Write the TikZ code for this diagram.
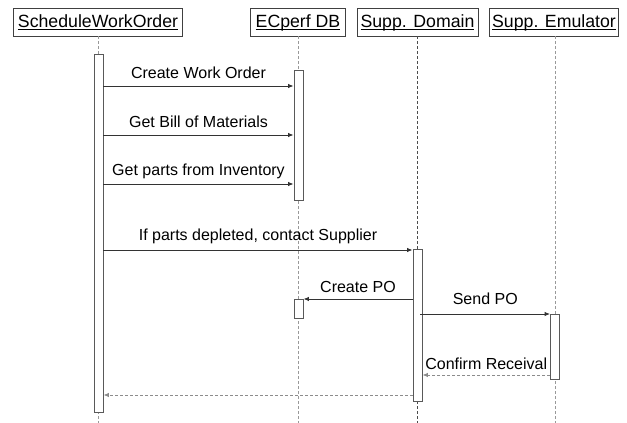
\documentclass[tikz,border=0pt]{standalone}
\usepackage{fontspec}
\setmainfont{Liberation Sans}
\usetikzlibrary{arrows.meta}
\begin{document}
\begin{tikzpicture}[x=1pt,y=-1pt,
 head/.style={draw=black!75,line width=0.8pt,inner sep=0pt,minimum height=28pt,text height=12.7pt,text depth=1.5pt,font=\fontsize{17.7}{20}\selectfont},
 life/.style={draw=black!40,dash pattern=on 3pt off 2pt,line width=0.8pt},
 act/.style={draw=black!65,fill=white,line width=0.9pt,inner sep=0pt,minimum width=9pt},
 msg/.style={draw=black!80,line width=0.9pt,-{Latex[length=5.5pt,width=4.5pt]}},
 ret/.style={draw=black!45,line width=0.9pt,dash pattern=on 3pt off 2pt,-{Latex[length=5.5pt,width=4.5pt]}},
 lbl/.style={font=\fontsize{16}{19}\selectfont,anchor=base,inner sep=0pt,text=black}]
\useasboundingbox (0,0) rectangle (627,423);
% heads
\node[head,minimum width=169pt] (swo) at (98,22) {\underline{\smash{ScheduleWorkOrder}}};
\node[head,minimum width=95pt] (db) at (298,22) {\underline{\smash{ECperf DB}}};
\node[head,minimum width=121pt] (sd) at (417.5,22) {\underline{\smash{Supp. Domain}}};
\node[head,minimum width=129pt] (se) at (554,22) {\underline{\smash{Supp. Emulator}}};
% lifelines
\draw[life] (swo.south) ++(0.5,0) -- ++(0,387);
\draw[life] (db.south) ++(0.5,0) -- ++(0,387);
\draw[life,draw=black!70] (sd.south) -- ++(0,387);
\draw[life] (se.south) ++(1,0) -- ++(0,387);
% activation bars
\node[act,minimum height=358pt] (b1) at (98.5,233) {};
\node[act,minimum height=130pt] (b2) at (298.5,135) {};
\node[act,minimum height=152pt] (b3) at (417.5,325) {};
\node[act,minimum height=65pt] (b4) at (555,346.5) {};
\node[act,minimum height=19pt] (b5) at (298.5,308.5) {};
% messages
\draw[msg] (b1.east |- 0,86) -- (b2.west |- 0,86) node[lbl,midway,yshift=8pt] {Create Work Order};
\draw[msg] (b1.east |- 0,135) -- (b2.west |- 0,135) node[lbl,midway,yshift=8pt] {Get Bill of Materials};
\draw[msg] (b1.east |- 0,184) -- (b2.west |- 0,184) node[lbl,midway,yshift=9pt] {Get parts from Inventory};
\draw[msg] (b1.east |- 0,250) -- (b3.west |- 0,250) node[lbl,midway,yshift=10pt] {If parts depleted, contact Supplier};
\draw[msg] (b3.west |- 0,299) -- (b5.east |- 0,299) node[lbl,midway,yshift=7pt] {Create PO};
\draw[msg] ([xshift=-2pt]b3.east |- 0,314) -- (b4.west |- 0,314) node[lbl,midway,yshift=10pt] {Send PO};
\draw[ret] (b4.west |- 0,375) -- (b3.east |- 0,375) node[lbl,midway,yshift=6pt] {Confirm Receival};
\draw[ret] (b3.west |- 0,395) -- (b1.east |- 0,395);
\end{tikzpicture}
\end{document}
